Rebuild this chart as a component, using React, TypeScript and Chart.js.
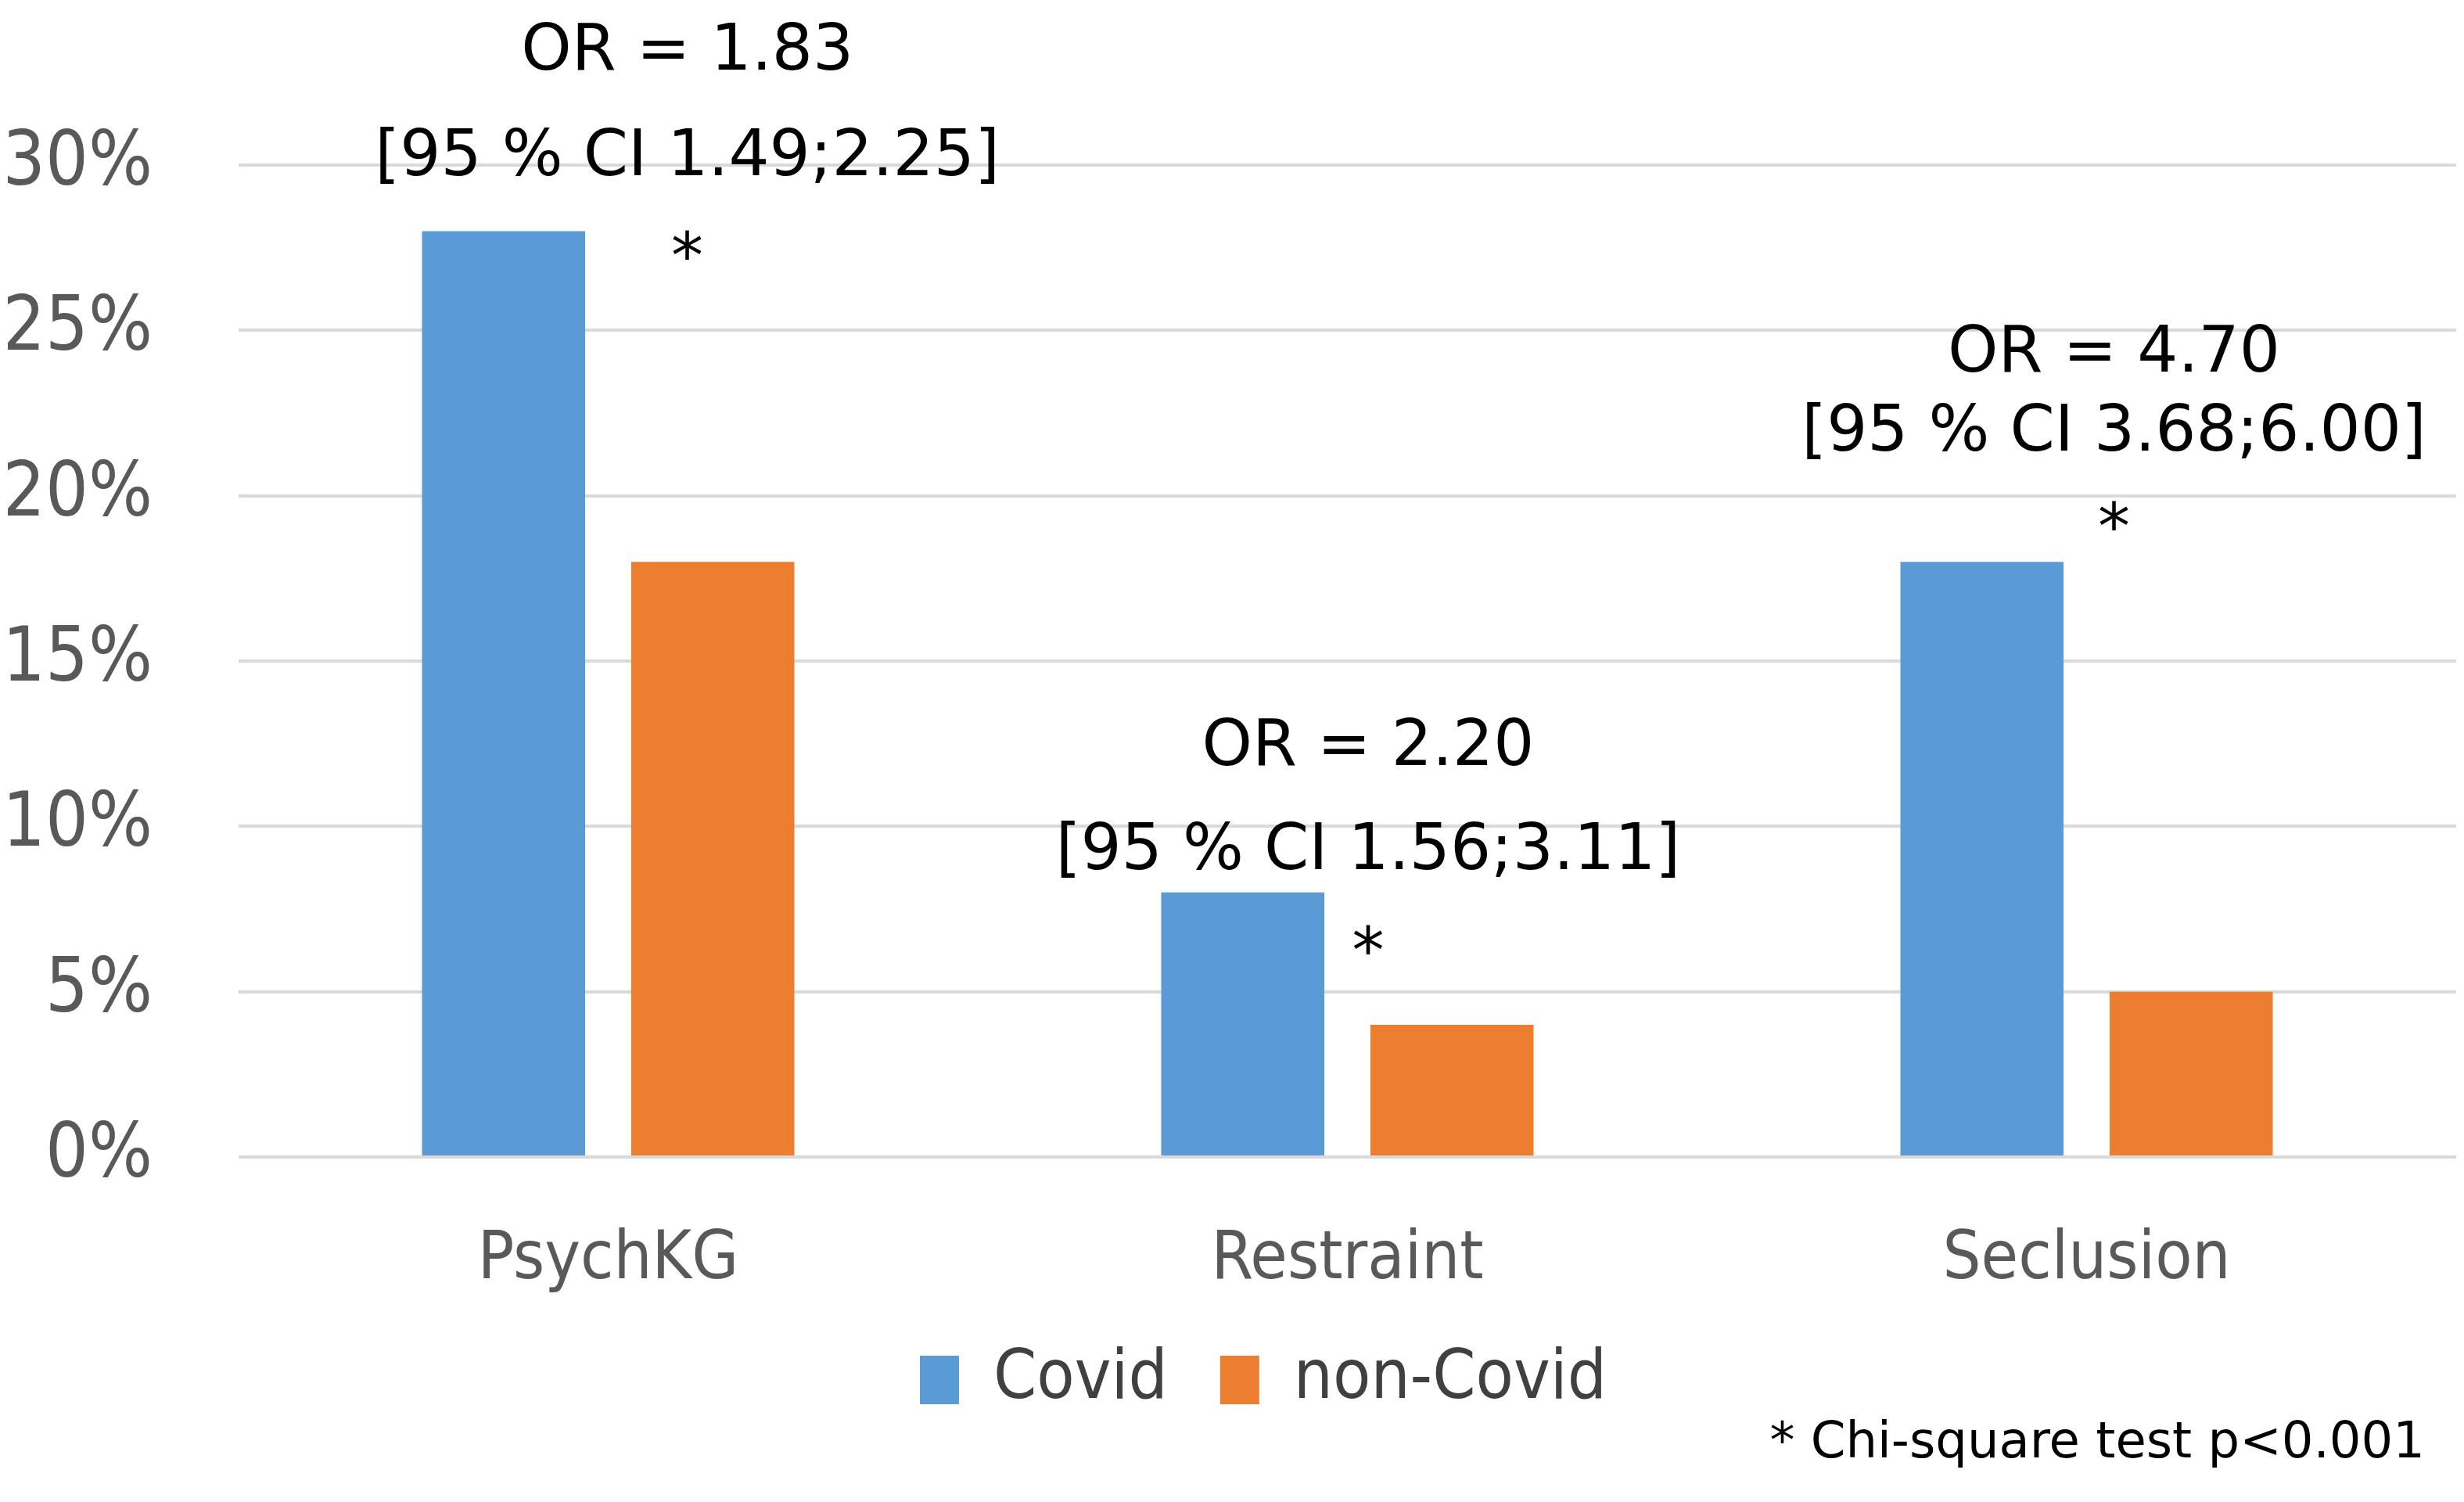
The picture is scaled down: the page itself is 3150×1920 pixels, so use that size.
import React, { useRef, useEffect } from 'react';
import { Chart, registerables } from 'chart.js';

Chart.register(...registerables);

const categories = ['PsychKG', 'Restraint', 'Seclusion'];
const covidValues = [28, 8, 18];
const nonCovidValues = [18, 4, 5];
const yTicks = [0, 5, 10, 15, 20, 25, 30];
const orLabels = ['OR = 1.83', 'OR = 2.20', 'OR = 4.70'];
const ciLabels = ['[95 % CI 1.49;2.25]', '[95 % CI 1.56;3.11]', '[95 % CI 3.68;6.00]'];
const significant = [true, true, true];
const footnote = '* Chi-square test p<0.001';

const FONT_C = "'DejaVu Sans Condensed', 'DejaVu Sans', sans-serif";
const FONT_R = "'DejaVu Sans', sans-serif";

// where the annotation text sits: x offset in category widths, y in axis units
const annotationLayout = [
	{ dx: 0.107, orY: 33.57, ciY: 30.38, starY: 27.48 },
	{ dx: 0.028, orY: 12.55, ciY: 9.41, starY: 6.47 },
	{ dx: 0.037, orY: 24.44, ciY: 22.06, starY: 19.3 },
];

const annotationPlugin = {
	id: 'orAnnotations',
	afterLayout(chart: Chart) {
		// nudge the legend a little to the right, as in the original
		if (chart.legend) chart.legend.left += 80;
	},
	afterDatasetsDraw(chart: Chart) {
		const { ctx } = chart;
		const x = chart.scales.x;
		const y = chart.scales.y;
		const catWidth = x.width / categories.length;
		const fs = 82;
		ctx.save();
		ctx.fillStyle = '#000000';
		ctx.textAlign = 'center';
		ctx.font = `${fs}px ${FONT_R}`;
		categories.forEach((_, i) => {
			const l = annotationLayout[i];
			const cx = x.getPixelForValue(i) + l.dx * catWidth;
			ctx.textBaseline = 'middle';
			ctx.fillText(orLabels[i], cx, y.getPixelForValue(l.orY) + 8);
			ctx.fillText(ciLabels[i], cx, y.getPixelForValue(l.ciY) + 8);
			if (significant[i]) {
				ctx.textBaseline = 'alphabetic';
				ctx.fillText('*', cx, y.getPixelForValue(l.starY) + 0.59 * fs - 10);
			}
		});
		// footnote, bottom right
		ctx.font = `64px ${FONT_R}`;
		ctx.textAlign = 'right';
		ctx.textBaseline = 'middle';
		ctx.fillText(footnote, chart.width - 50, chart.height - 74);
		ctx.restore();
	},
};

const BarChart: React.FC = () => {
	const chartRef = useRef<HTMLCanvasElement>(null);
	const chartInstance = useRef<Chart | null>(null);

	useEffect(() => {
		document.body.style.margin = '0';
		const ctx = chartRef.current?.getContext('2d');
		if (ctx) {
			chartInstance.current = new Chart(ctx, {
				type: 'bar',
				data: {
					labels: categories,
					datasets: [
						{
							label: 'Covid',
							data: covidValues,
							backgroundColor: '#5B9BD5',
							categoryPercentage: 0.566,
							barPercentage: 0.78,
						},
						{
							label: 'non-Covid',
							data: nonCovidValues,
							backgroundColor: '#ED7D31',
							categoryPercentage: 0.566,
							barPercentage: 0.78,
						},
					],
				},
				options: {
					animation: false,
					responsive: true,
					maintainAspectRatio: false,
					layout: { padding: { top: 211, right: 10, bottom: 107, left: 10 } },
					scales: {
						x: {
							grid: { display: false },
							border: { display: false },
							afterFit: (axis) => {
								axis.height = 174;
							},
							ticks: {
								color: '#595959',
								font: { family: FONT_C, size: 86 },
								padding: 73,
							},
						},
						y: {
							min: 0,
							max: 30,
							afterBuildTicks: (axis) => {
								axis.ticks = yTicks.map((v) => ({ value: v }));
							},
							afterFit: (axis) => {
								axis.width = 295;
							},
							grid: { color: '#D9D9D9', lineWidth: 4, drawTicks: false },
							border: { display: false },
							ticks: {
								color: '#595959',
								font: { family: FONT_C, size: 96 },
								padding: 110,
								callback: (v) => `${v}%`,
							},
						},
					},
					plugins: {
						legend: {
							position: 'bottom',
							maxHeight: 160,
							labels: {
								color: '#404040',
								font: { family: FONT_C, size: 88 },
								boxWidth: 50,
								boxHeight: 62,
								padding: 67,
							},
						},
						tooltip: { enabled: false },
					},
				},
				plugins: [annotationPlugin],
			});
		}

		return () => {
			chartInstance.current?.destroy();
		};
	}, []);

	return (
		<div style={{ width: 3150, height: 1920, position: 'relative' }}>
			<canvas ref={chartRef} />
		</div>
	);
};

export default function App() {
	return <BarChart />;
}
